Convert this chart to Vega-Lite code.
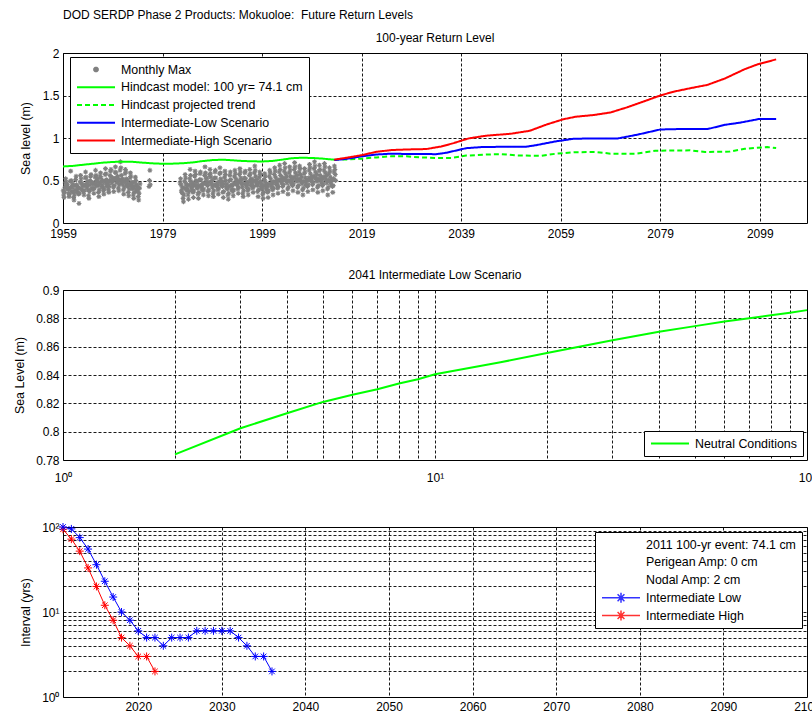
{
"$schema": "https://vega.github.io/schema/vega-lite/v6.json",
"padding": {"left": 12, "top": 8, "right": 0, "bottom": 0},
"background": "white",
"title": {"text": "DOD SERDP Phase 2 Products: Mokuoloe:\u00a0 Future Return Levels", "anchor": "start", "frame": "group", "offset": 10, "fontSize": 12, "fontWeight": "normal"},
"bounds": "flush",
"spacing": 67,
"resolve": {"scale": {"color": "independent"}, "legend": {"color": "independent"}},
"datasets": {
"monthly": [
{"t":1959.04,"v":0.38},{"t":1959.13,"v":0.33},{"t":1959.21,"v":0.30},{"t":1959.29,"v":0.36},{"t":1959.38,"v":0.42},{"t":1959.46,"v":0.47},{"t":1959.54,"v":0.52},{"t":1959.63,"v":0.48},{"t":1959.71,"v":0.44},{"t":1959.79,"v":0.40},{"t":1959.88,"v":0.45},{"t":1959.96,"v":0.41},
{"t":1960.04,"v":0.40},{"t":1960.13,"v":0.35},{"t":1960.21,"v":0.31},{"t":1960.29,"v":0.34},{"t":1960.38,"v":0.40},{"t":1960.46,"v":0.49},{"t":1960.54,"v":0.61},{"t":1960.63,"v":0.50},{"t":1960.71,"v":0.43},{"t":1960.79,"v":0.37},{"t":1960.88,"v":0.42},{"t":1960.96,"v":0.46},
{"t":1961.04,"v":0.36},{"t":1961.13,"v":0.30},{"t":1961.21,"v":0.27},{"t":1961.29,"v":0.33},{"t":1961.38,"v":0.39},{"t":1961.46,"v":0.44},{"t":1961.54,"v":0.51},{"t":1961.63,"v":0.55},{"t":1961.71,"v":0.45},{"t":1961.79,"v":0.38},{"t":1961.88,"v":0.36},{"t":1961.96,"v":0.43},
{"t":1962.04,"v":0.41},{"t":1962.13,"v":0.34},{"t":1962.21,"v":0.23},{"t":1962.29,"v":0.35},{"t":1962.38,"v":0.41},{"t":1962.46,"v":0.48},{"t":1962.54,"v":0.56},{"t":1962.63,"v":0.52},{"t":1962.71,"v":0.47},{"t":1962.79,"v":0.40},{"t":1962.88,"v":0.38},{"t":1962.96,"v":0.44},
{"t":1963.04,"v":0.45},{"t":1963.13,"v":0.37},{"t":1963.21,"v":0.33},{"t":1963.29,"v":0.38},{"t":1963.38,"v":0.44},{"t":1963.46,"v":0.53},{"t":1963.54,"v":0.60},{"t":1963.63,"v":0.54},{"t":1963.71,"v":0.46},{"t":1963.79,"v":0.42},{"t":1963.88,"v":0.44},{"t":1963.96,"v":0.49},
{"t":1964.04,"v":0.39},{"t":1964.13,"v":0.32},{"t":1964.21,"v":0.29},{"t":1964.29,"v":0.37},{"t":1964.38,"v":0.45},{"t":1964.46,"v":0.50},{"t":1964.54,"v":0.55},{"t":1964.63,"v":0.57},{"t":1964.71,"v":0.48},{"t":1964.79,"v":0.41},{"t":1964.88,"v":0.40},{"t":1964.96,"v":0.46},
{"t":1965.04,"v":0.47},{"t":1965.13,"v":0.40},{"t":1965.21,"v":0.35},{"t":1965.29,"v":0.41},{"t":1965.38,"v":0.46},{"t":1965.46,"v":0.54},{"t":1965.54,"v":0.62},{"t":1965.63,"v":0.56},{"t":1965.71,"v":0.50},{"t":1965.79,"v":0.44},{"t":1965.88,"v":0.48},{"t":1965.96,"v":0.52},
{"t":1966.04,"v":0.44},{"t":1966.13,"v":0.36},{"t":1966.21,"v":0.31},{"t":1966.29,"v":0.39},{"t":1966.38,"v":0.47},{"t":1966.46,"v":0.55},{"t":1966.54,"v":0.59},{"t":1966.63,"v":0.53},{"t":1966.71,"v":0.49},{"t":1966.79,"v":0.43},{"t":1966.88,"v":0.45},{"t":1966.96,"v":0.50},
{"t":1967.04,"v":0.42},{"t":1967.13,"v":0.38},{"t":1967.21,"v":0.34},{"t":1967.29,"v":0.40},{"t":1967.38,"v":0.48},{"t":1967.46,"v":0.57},{"t":1967.54,"v":0.64},{"t":1967.63,"v":0.58},{"t":1967.71,"v":0.51},{"t":1967.79,"v":0.45},{"t":1967.88,"v":0.43},{"t":1967.96,"v":0.47},
{"t":1968.04,"v":0.46},{"t":1968.13,"v":0.39},{"t":1968.21,"v":0.36},{"t":1968.29,"v":0.43},{"t":1968.38,"v":0.50},{"t":1968.46,"v":0.56},{"t":1968.54,"v":0.61},{"t":1968.63,"v":0.63},{"t":1968.71,"v":0.54},{"t":1968.79,"v":0.47},{"t":1968.88,"v":0.49},{"t":1968.96,"v":0.53},
{"t":1969.04,"v":0.50},{"t":1969.13,"v":0.42},{"t":1969.21,"v":0.37},{"t":1969.29,"v":0.44},{"t":1969.38,"v":0.52},{"t":1969.46,"v":0.60},{"t":1969.54,"v":0.66},{"t":1969.63,"v":0.59},{"t":1969.71,"v":0.53},{"t":1969.79,"v":0.48},{"t":1969.88,"v":0.51},{"t":1969.96,"v":0.55},
{"t":1970.04,"v":0.48},{"t":1970.13,"v":0.41},{"t":1970.21,"v":0.38},{"t":1970.29,"v":0.45},{"t":1970.38,"v":0.51},{"t":1970.46,"v":0.62},{"t":1970.54,"v":0.72},{"t":1970.63,"v":0.65},{"t":1970.71,"v":0.56},{"t":1970.79,"v":0.49},{"t":1970.88,"v":0.47},{"t":1970.96,"v":0.52},
{"t":1971.04,"v":0.45},{"t":1971.13,"v":0.39},{"t":1971.21,"v":0.34},{"t":1971.29,"v":0.42},{"t":1971.38,"v":0.49},{"t":1971.46,"v":0.58},{"t":1971.54,"v":0.63},{"t":1971.63,"v":0.60},{"t":1971.71,"v":0.52},{"t":1971.79,"v":0.46},{"t":1971.88,"v":0.44},{"t":1971.96,"v":0.50},
{"t":1972.04,"v":0.43},{"t":1972.13,"v":0.36},{"t":1972.21,"v":0.32},{"t":1972.29,"v":0.40},{"t":1972.38,"v":0.46},{"t":1972.46,"v":0.53},{"t":1972.54,"v":0.59},{"t":1972.63,"v":0.55},{"t":1972.71,"v":0.48},{"t":1972.79,"v":0.44},{"t":1972.88,"v":0.41},{"t":1972.96,"v":0.47},
{"t":1973.04,"v":0.40},{"t":1973.13,"v":0.33},{"t":1973.21,"v":0.29},{"t":1973.29,"v":0.36},{"t":1973.38,"v":0.42},{"t":1973.46,"v":0.48},{"t":1973.54,"v":0.54},{"t":1973.63,"v":0.50},{"t":1973.71,"v":0.45},{"t":1973.79,"v":0.39},{"t":1973.88,"v":0.37},{"t":1973.96,"v":0.43},
{"t":1974.04,"v":0.38},{"t":1974.13,"v":0.31},{"t":1974.21,"v":0.27},{"t":1974.29,"v":0.35},{"t":1974.38,"v":0.41},{"t":1974.46,"v":0.46},
{"t":1976.29,"v":0.43},{"t":1976.38,"v":0.50},{"t":1976.46,"v":0.62},{"t":1976.54,"v":0.45},
{"t":1982.54,"v":0.47},{"t":1982.63,"v":0.52},{"t":1982.71,"v":0.45},{"t":1982.79,"v":0.38},{"t":1982.88,"v":0.36},{"t":1982.96,"v":0.42},
{"t":1983.04,"v":0.35},{"t":1983.13,"v":0.29},{"t":1983.21,"v":0.25},{"t":1983.29,"v":0.33},{"t":1983.38,"v":0.41},{"t":1983.46,"v":0.49},{"t":1983.54,"v":0.57},{"t":1983.63,"v":0.53},{"t":1983.71,"v":0.46},{"t":1983.79,"v":0.40},{"t":1983.88,"v":0.38},{"t":1983.96,"v":0.44},
{"t":1984.04,"v":0.40},{"t":1984.13,"v":0.33},{"t":1984.21,"v":0.28},{"t":1984.29,"v":0.37},{"t":1984.38,"v":0.45},{"t":1984.46,"v":0.52},{"t":1984.54,"v":0.63},{"t":1984.63,"v":0.56},{"t":1984.71,"v":0.49},{"t":1984.79,"v":0.42},{"t":1984.88,"v":0.39},{"t":1984.96,"v":0.46},
{"t":1985.04,"v":0.43},{"t":1985.13,"v":0.36},{"t":1985.21,"v":0.30},{"t":1985.29,"v":0.38},{"t":1985.38,"v":0.46},{"t":1985.46,"v":0.55},{"t":1985.54,"v":0.61},{"t":1985.63,"v":0.57},{"t":1985.71,"v":0.50},{"t":1985.79,"v":0.44},{"t":1985.88,"v":0.42},{"t":1985.96,"v":0.48},
{"t":1986.04,"v":0.41},{"t":1986.13,"v":0.34},{"t":1986.21,"v":0.29},{"t":1986.29,"v":0.36},{"t":1986.38,"v":0.44},{"t":1986.46,"v":0.51},{"t":1986.54,"v":0.58},{"t":1986.63,"v":0.60},{"t":1986.71,"v":0.51},{"t":1986.79,"v":0.43},{"t":1986.88,"v":0.40},{"t":1986.96,"v":0.45},
{"t":1987.04,"v":0.46},{"t":1987.13,"v":0.38},{"t":1987.21,"v":0.33},{"t":1987.29,"v":0.40},{"t":1987.38,"v":0.47},{"t":1987.46,"v":0.56},{"t":1987.54,"v":0.66},{"t":1987.63,"v":0.59},{"t":1987.71,"v":0.52},{"t":1987.79,"v":0.46},{"t":1987.88,"v":0.48},{"t":1987.96,"v":0.53},
{"t":1988.04,"v":0.44},{"t":1988.13,"v":0.37},{"t":1988.21,"v":0.32},{"t":1988.29,"v":0.39},{"t":1988.38,"v":0.48},{"t":1988.46,"v":0.57},{"t":1988.54,"v":0.63},{"t":1988.63,"v":0.58},{"t":1988.71,"v":0.54},{"t":1988.79,"v":0.47},{"t":1988.88,"v":0.45},{"t":1988.96,"v":0.50},
{"t":1989.04,"v":0.42},{"t":1989.13,"v":0.35},{"t":1989.21,"v":0.31},{"t":1989.29,"v":0.38},{"t":1989.38,"v":0.45},{"t":1989.46,"v":0.53},{"t":1989.54,"v":0.60},{"t":1989.63,"v":0.62},{"t":1989.71,"v":0.53},{"t":1989.79,"v":0.45},{"t":1989.88,"v":0.43},{"t":1989.96,"v":0.47},
{"t":1990.04,"v":0.45},{"t":1990.13,"v":0.39},{"t":1990.21,"v":0.34},{"t":1990.29,"v":0.41},{"t":1990.38,"v":0.49},{"t":1990.46,"v":0.58},{"t":1990.54,"v":0.65},{"t":1990.63,"v":0.59},{"t":1990.71,"v":0.52},{"t":1990.79,"v":0.46},{"t":1990.88,"v":0.44},{"t":1990.96,"v":0.49},
{"t":1991.04,"v":0.43},{"t":1991.13,"v":0.36},{"t":1991.21,"v":0.30},{"t":1991.29,"v":0.37},{"t":1991.38,"v":0.46},{"t":1991.46,"v":0.54},{"t":1991.54,"v":0.61},{"t":1991.63,"v":0.57},{"t":1991.71,"v":0.50},{"t":1991.79,"v":0.43},{"t":1991.88,"v":0.41},{"t":1991.96,"v":0.46},
{"t":1992.04,"v":0.40},{"t":1992.13,"v":0.33},{"t":1992.21,"v":0.28},{"t":1992.29,"v":0.35},{"t":1992.38,"v":0.43},{"t":1992.46,"v":0.50},{"t":1992.54,"v":0.56},{"t":1992.63,"v":0.60},{"t":1992.71,"v":0.51},{"t":1992.79,"v":0.44},{"t":1992.88,"v":0.39},{"t":1992.96,"v":0.45},
{"t":1993.04,"v":0.44},{"t":1993.13,"v":0.37},{"t":1993.21,"v":0.32},{"t":1993.29,"v":0.39},{"t":1993.38,"v":0.47},{"t":1993.46,"v":0.55},{"t":1993.54,"v":0.62},{"t":1993.63,"v":0.58},{"t":1993.71,"v":0.52},{"t":1993.79,"v":0.47},{"t":1993.88,"v":0.45},{"t":1993.96,"v":0.50},
{"t":1994.04,"v":0.46},{"t":1994.13,"v":0.40},{"t":1994.21,"v":0.35},{"t":1994.29,"v":0.42},{"t":1994.38,"v":0.49},{"t":1994.46,"v":0.57},{"t":1994.54,"v":0.64},{"t":1994.63,"v":0.60},{"t":1994.71,"v":0.53},{"t":1994.79,"v":0.48},{"t":1994.88,"v":0.46},{"t":1994.96,"v":0.51},
{"t":1995.04,"v":0.42},{"t":1995.13,"v":0.35},{"t":1995.21,"v":0.31},{"t":1995.29,"v":0.38},{"t":1995.38,"v":0.46},{"t":1995.46,"v":0.53},{"t":1995.54,"v":0.59},{"t":1995.63,"v":0.61},{"t":1995.71,"v":0.52},{"t":1995.79,"v":0.45},{"t":1995.88,"v":0.42},{"t":1995.96,"v":0.48},
{"t":1996.04,"v":0.45},{"t":1996.13,"v":0.38},{"t":1996.21,"v":0.33},{"t":1996.29,"v":0.40},{"t":1996.38,"v":0.48},{"t":1996.46,"v":0.56},{"t":1996.54,"v":0.63},{"t":1996.63,"v":0.58},{"t":1996.71,"v":0.51},{"t":1996.79,"v":0.44},{"t":1996.88,"v":0.47},{"t":1996.96,"v":0.52},
{"t":1997.04,"v":0.48},{"t":1997.13,"v":0.41},{"t":1997.21,"v":0.36},{"t":1997.29,"v":0.43},{"t":1997.38,"v":0.50},{"t":1997.46,"v":0.59},{"t":1997.54,"v":0.67},{"t":1997.63,"v":0.62},{"t":1997.71,"v":0.55},{"t":1997.79,"v":0.49},{"t":1997.88,"v":0.46},{"t":1997.96,"v":0.51},
{"t":1998.04,"v":0.44},{"t":1998.13,"v":0.37},{"t":1998.21,"v":0.31},{"t":1998.29,"v":0.39},{"t":1998.38,"v":0.47},{"t":1998.46,"v":0.54},{"t":1998.54,"v":0.60},{"t":1998.63,"v":0.57},{"t":1998.71,"v":0.49},{"t":1998.79,"v":0.43},{"t":1998.88,"v":0.40},{"t":1998.96,"v":0.46},
{"t":1999.04,"v":0.41},{"t":1999.13,"v":0.34},{"t":1999.21,"v":0.29},{"t":1999.29,"v":0.36},{"t":1999.38,"v":0.44},{"t":1999.46,"v":0.51},{"t":1999.54,"v":0.58},{"t":1999.63,"v":0.55},{"t":1999.71,"v":0.48},{"t":1999.79,"v":0.42},{"t":1999.88,"v":0.39},{"t":1999.96,"v":0.45},
{"t":2000.04,"v":0.43},{"t":2000.13,"v":0.36},{"t":2000.21,"v":0.30},{"t":2000.29,"v":0.38},{"t":2000.38,"v":0.46},{"t":2000.46,"v":0.55},{"t":2000.54,"v":0.62},{"t":2000.63,"v":0.59},{"t":2000.71,"v":0.52},{"t":2000.79,"v":0.45},{"t":2000.88,"v":0.42},{"t":2000.96,"v":0.48},
{"t":2001.04,"v":0.46},{"t":2001.13,"v":0.39},{"t":2001.21,"v":0.33},{"t":2001.29,"v":0.41},{"t":2001.38,"v":0.49},{"t":2001.46,"v":0.57},{"t":2001.54,"v":0.65},{"t":2001.63,"v":0.61},{"t":2001.71,"v":0.54},{"t":2001.79,"v":0.47},{"t":2001.88,"v":0.45},{"t":2001.96,"v":0.50},
{"t":2002.04,"v":0.48},{"t":2002.13,"v":0.41},{"t":2002.21,"v":0.35},{"t":2002.29,"v":0.43},{"t":2002.38,"v":0.51},{"t":2002.46,"v":0.60},{"t":2002.54,"v":0.68},{"t":2002.63,"v":0.63},{"t":2002.71,"v":0.56},{"t":2002.79,"v":0.50},{"t":2002.88,"v":0.47},{"t":2002.96,"v":0.53},
{"t":2003.04,"v":0.50},{"t":2003.13,"v":0.43},{"t":2003.21,"v":0.37},{"t":2003.29,"v":0.45},{"t":2003.38,"v":0.53},{"t":2003.46,"v":0.61},{"t":2003.54,"v":0.70},{"t":2003.63,"v":0.65},{"t":2003.71,"v":0.58},{"t":2003.79,"v":0.51},{"t":2003.88,"v":0.49},{"t":2003.96,"v":0.55},
{"t":2004.04,"v":0.47},{"t":2004.13,"v":0.40},{"t":2004.21,"v":0.34},{"t":2004.29,"v":0.42},{"t":2004.38,"v":0.50},{"t":2004.46,"v":0.59},{"t":2004.54,"v":0.66},{"t":2004.63,"v":0.62},{"t":2004.71,"v":0.55},{"t":2004.79,"v":0.49},{"t":2004.88,"v":0.46},{"t":2004.96,"v":0.52},
{"t":2005.04,"v":0.51},{"t":2005.13,"v":0.44},{"t":2005.21,"v":0.38},{"t":2005.29,"v":0.46},{"t":2005.38,"v":0.54},{"t":2005.46,"v":0.63},{"t":2005.54,"v":0.71},{"t":2005.63,"v":0.66},{"t":2005.71,"v":0.59},{"t":2005.79,"v":0.52},{"t":2005.88,"v":0.50},{"t":2005.96,"v":0.56},
{"t":2006.04,"v":0.49},{"t":2006.13,"v":0.42},{"t":2006.21,"v":0.36},{"t":2006.29,"v":0.44},{"t":2006.38,"v":0.52},{"t":2006.46,"v":0.60},{"t":2006.54,"v":0.67},{"t":2006.63,"v":0.64},{"t":2006.71,"v":0.57},{"t":2006.79,"v":0.50},{"t":2006.88,"v":0.48},{"t":2006.96,"v":0.54},
{"t":2007.04,"v":0.46},{"t":2007.13,"v":0.39},{"t":2007.21,"v":0.33},{"t":2007.29,"v":0.41},{"t":2007.38,"v":0.49},{"t":2007.46,"v":0.58},{"t":2007.54,"v":0.64},{"t":2007.63,"v":0.60},{"t":2007.71,"v":0.53},{"t":2007.79,"v":0.47},{"t":2007.88,"v":0.44},{"t":2007.96,"v":0.50},
{"t":2008.04,"v":0.50},{"t":2008.13,"v":0.43},{"t":2008.21,"v":0.37},{"t":2008.29,"v":0.45},{"t":2008.38,"v":0.53},{"t":2008.46,"v":0.62},{"t":2008.54,"v":0.69},{"t":2008.63,"v":0.65},{"t":2008.71,"v":0.58},{"t":2008.79,"v":0.51},{"t":2008.88,"v":0.49},{"t":2008.96,"v":0.55},
{"t":2009.04,"v":0.52},{"t":2009.13,"v":0.45},{"t":2009.21,"v":0.39},{"t":2009.29,"v":0.47},{"t":2009.38,"v":0.55},{"t":2009.46,"v":0.64},{"t":2009.54,"v":0.72},{"t":2009.63,"v":0.67},{"t":2009.71,"v":0.60},{"t":2009.79,"v":0.53},{"t":2009.88,"v":0.51},{"t":2009.96,"v":0.57},
{"t":2010.04,"v":0.49},{"t":2010.13,"v":0.42},{"t":2010.21,"v":0.36},{"t":2010.29,"v":0.44},{"t":2010.38,"v":0.52},{"t":2010.46,"v":0.61},{"t":2010.54,"v":0.68},{"t":2010.63,"v":0.63},{"t":2010.71,"v":0.56},{"t":2010.79,"v":0.50},{"t":2010.88,"v":0.47},{"t":2010.96,"v":0.53},
{"t":2011.04,"v":0.51},{"t":2011.13,"v":0.44},{"t":2011.21,"v":0.38},{"t":2011.29,"v":0.46},{"t":2011.38,"v":0.54},{"t":2011.46,"v":0.62},{"t":2011.54,"v":0.70},{"t":2011.63,"v":0.66},{"t":2011.71,"v":0.59},{"t":2011.79,"v":0.52},{"t":2011.88,"v":0.50},{"t":2011.96,"v":0.56},
{"t":2012.04,"v":0.47},{"t":2012.13,"v":0.40},{"t":2012.21,"v":0.33},{"t":2012.29,"v":0.42},{"t":2012.38,"v":0.50},{"t":2012.46,"v":0.58},{"t":2012.54,"v":0.65},{"t":2012.63,"v":0.61},{"t":2012.71,"v":0.54},{"t":2012.79,"v":0.48},{"t":2012.88,"v":0.45},{"t":2012.96,"v":0.51},
{"t":2013.04,"v":0.50},{"t":2013.13,"v":0.43},{"t":2013.21,"v":0.36},{"t":2013.29,"v":0.44},{"t":2013.38,"v":0.52},{"t":2013.46,"v":0.60},{"t":2013.54,"v":0.67},{"t":2013.63,"v":0.63},{"t":2013.71,"v":0.57},{"t":2013.79,"v":0.50}
],
"lines1": [
{"s":"Hindcast model: 100 yr= 74.1 cm","t":1959,"v":0.665},{"s":"Hindcast model: 100 yr= 74.1 cm","t":1961,"v":0.672},{"s":"Hindcast model: 100 yr= 74.1 cm","t":1963,"v":0.685},{"s":"Hindcast model: 100 yr= 74.1 cm","t":1965,"v":0.697},{"s":"Hindcast model: 100 yr= 74.1 cm","t":1967,"v":0.71},{"s":"Hindcast model: 100 yr= 74.1 cm","t":1969,"v":0.718},{"s":"Hindcast model: 100 yr= 74.1 cm","t":1971,"v":0.722},{"s":"Hindcast model: 100 yr= 74.1 cm","t":1973,"v":0.72},{"s":"Hindcast model: 100 yr= 74.1 cm","t":1975,"v":0.71},{"s":"Hindcast model: 100 yr= 74.1 cm","t":1977,"v":0.702},{"s":"Hindcast model: 100 yr= 74.1 cm","t":1979,"v":0.697},{"s":"Hindcast model: 100 yr= 74.1 cm","t":1981,"v":0.698},{"s":"Hindcast model: 100 yr= 74.1 cm","t":1983,"v":0.703},{"s":"Hindcast model: 100 yr= 74.1 cm","t":1985,"v":0.712},{"s":"Hindcast model: 100 yr= 74.1 cm","t":1987,"v":0.728},{"s":"Hindcast model: 100 yr= 74.1 cm","t":1989,"v":0.74},{"s":"Hindcast model: 100 yr= 74.1 cm","t":1991,"v":0.745},{"s":"Hindcast model: 100 yr= 74.1 cm","t":1993,"v":0.738},{"s":"Hindcast model: 100 yr= 74.1 cm","t":1995,"v":0.73},{"s":"Hindcast model: 100 yr= 74.1 cm","t":1997,"v":0.726},{"s":"Hindcast model: 100 yr= 74.1 cm","t":1999,"v":0.724},{"s":"Hindcast model: 100 yr= 74.1 cm","t":2001,"v":0.73},{"s":"Hindcast model: 100 yr= 74.1 cm","t":2003,"v":0.745},{"s":"Hindcast model: 100 yr= 74.1 cm","t":2005,"v":0.762},{"s":"Hindcast model: 100 yr= 74.1 cm","t":2007,"v":0.768},{"s":"Hindcast model: 100 yr= 74.1 cm","t":2009,"v":0.765},{"s":"Hindcast model: 100 yr= 74.1 cm","t":2011,"v":0.758},{"s":"Hindcast model: 100 yr= 74.1 cm","t":2013.5,"v":0.745},
{"s":"Hindcast projected trend","t":2013.5,"v":0.745},{"s":"Hindcast projected trend","t":2016,"v":0.748},{"s":"Hindcast projected trend","t":2019,"v":0.757},{"s":"Hindcast projected trend","t":2022,"v":0.772},{"s":"Hindcast projected trend","t":2025,"v":0.785},{"s":"Hindcast projected trend","t":2028,"v":0.784},{"s":"Hindcast projected trend","t":2031,"v":0.772},{"s":"Hindcast projected trend","t":2034,"v":0.765},{"s":"Hindcast projected trend","t":2037,"v":0.766},{"s":"Hindcast projected trend","t":2040,"v":0.793},{"s":"Hindcast projected trend","t":2044,"v":0.805},{"s":"Hindcast projected trend","t":2047,"v":0.81},{"s":"Hindcast projected trend","t":2050,"v":0.796},{"s":"Hindcast projected trend","t":2055,"v":0.79},{"s":"Hindcast projected trend","t":2058,"v":0.815},{"s":"Hindcast projected trend","t":2062,"v":0.833},{"s":"Hindcast projected trend","t":2066,"v":0.835},{"s":"Hindcast projected trend","t":2069,"v":0.816},{"s":"Hindcast projected trend","t":2074,"v":0.815},{"s":"Hindcast projected trend","t":2078,"v":0.85},{"s":"Hindcast projected trend","t":2085,"v":0.855},{"s":"Hindcast projected trend","t":2088,"v":0.836},{"s":"Hindcast projected trend","t":2093,"v":0.84},{"s":"Hindcast projected trend","t":2096,"v":0.874},{"s":"Hindcast projected trend","t":2100.5,"v":0.893},{"s":"Hindcast projected trend","t":2102.3,"v":0.882},
{"s":"Intermediate-Low Scenario","t":2013.5,"v":0.74},{"s":"Intermediate-Low Scenario","t":2016,"v":0.755},{"s":"Intermediate-Low Scenario","t":2019,"v":0.784},{"s":"Intermediate-Low Scenario","t":2022,"v":0.806},{"s":"Intermediate-Low Scenario","t":2025,"v":0.816},{"s":"Intermediate-Low Scenario","t":2028,"v":0.812},{"s":"Intermediate-Low Scenario","t":2034,"v":0.81},{"s":"Intermediate-Low Scenario","t":2036,"v":0.826},{"s":"Intermediate-Low Scenario","t":2040,"v":0.88},{"s":"Intermediate-Low Scenario","t":2043.5,"v":0.895},{"s":"Intermediate-Low Scenario","t":2052,"v":0.897},{"s":"Intermediate-Low Scenario","t":2054,"v":0.915},{"s":"Intermediate-Low Scenario","t":2058,"v":0.96},{"s":"Intermediate-Low Scenario","t":2061.5,"v":0.99},{"s":"Intermediate-Low Scenario","t":2065,"v":0.995},{"s":"Intermediate-Low Scenario","t":2070.5,"v":0.995},{"s":"Intermediate-Low Scenario","t":2074.5,"v":1.04},{"s":"Intermediate-Low Scenario","t":2079,"v":1.1},{"s":"Intermediate-Low Scenario","t":2082.5,"v":1.105},{"s":"Intermediate-Low Scenario","t":2088.5,"v":1.105},{"s":"Intermediate-Low Scenario","t":2092,"v":1.155},{"s":"Intermediate-Low Scenario","t":2095,"v":1.18},{"s":"Intermediate-Low Scenario","t":2099,"v":1.225},{"s":"Intermediate-Low Scenario","t":2102.3,"v":1.225},
{"s":"Intermediate-High Scenario","t":2013.5,"v":0.745},{"s":"Intermediate-High Scenario","t":2016,"v":0.768},{"s":"Intermediate-High Scenario","t":2019,"v":0.798},{"s":"Intermediate-High Scenario","t":2022,"v":0.838},{"s":"Intermediate-High Scenario","t":2025,"v":0.858},{"s":"Intermediate-High Scenario","t":2028,"v":0.865},{"s":"Intermediate-High Scenario","t":2032,"v":0.87},{"s":"Intermediate-High Scenario","t":2035,"v":0.9},{"s":"Intermediate-High Scenario","t":2037.5,"v":0.94},{"s":"Intermediate-High Scenario","t":2040.5,"v":0.995},{"s":"Intermediate-High Scenario","t":2044,"v":1.027},{"s":"Intermediate-High Scenario","t":2049,"v":1.05},{"s":"Intermediate-High Scenario","t":2052.8,"v":1.085},{"s":"Intermediate-High Scenario","t":2056,"v":1.155},{"s":"Intermediate-High Scenario","t":2059.5,"v":1.22},{"s":"Intermediate-High Scenario","t":2062,"v":1.25},{"s":"Intermediate-High Scenario","t":2065.6,"v":1.27},{"s":"Intermediate-High Scenario","t":2069,"v":1.3},{"s":"Intermediate-High Scenario","t":2072.3,"v":1.36},{"s":"Intermediate-High Scenario","t":2075.7,"v":1.43},{"s":"Intermediate-High Scenario","t":2079,"v":1.5},{"s":"Intermediate-High Scenario","t":2081.7,"v":1.545},{"s":"Intermediate-High Scenario","t":2085,"v":1.585},{"s":"Intermediate-High Scenario","t":2088.5,"v":1.625},{"s":"Intermediate-High Scenario","t":2092,"v":1.7},{"s":"Intermediate-High Scenario","t":2096,"v":1.81},{"s":"Intermediate-High Scenario","t":2098.5,"v":1.865},{"s":"Intermediate-High Scenario","t":2102.3,"v":1.925}
],
"neutral": [
{"x":2,"y":0.784},{"x":3,"y":0.8024},{"x":4,"y":0.813},{"x":5,"y":0.821},{"x":6,"y":0.826},{"x":7,"y":0.83},{"x":8,"y":0.834},{"x":9,"y":0.837},{"x":10,"y":0.8405},{"x":15,"y":0.849},{"x":20,"y":0.8555},{"x":30,"y":0.8645},{"x":40,"y":0.8705},{"x":50,"y":0.8745},{"x":60,"y":0.8777},{"x":70,"y":0.88},{"x":80,"y":0.8822},{"x":90,"y":0.884},{"x":100,"y":0.8858}
],
"intervals": [
{"s":"Intermediate High","x":2011,"y":94},{"s":"Intermediate High","x":2012,"y":72},{"s":"Intermediate High","x":2013,"y":52},{"s":"Intermediate High","x":2014,"y":33},{"s":"Intermediate High","x":2015,"y":20},{"s":"Intermediate High","x":2016,"y":12},{"s":"Intermediate High","x":2017,"y":8},{"s":"Intermediate High","x":2018,"y":5},{"s":"Intermediate High","x":2019,"y":4},{"s":"Intermediate High","x":2020,"y":3},{"s":"Intermediate High","x":2021,"y":3},{"s":"Intermediate High","x":2022,"y":2},
{"s":"Intermediate Low","x":2011,"y":100},{"s":"Intermediate Low","x":2012,"y":95},{"s":"Intermediate Low","x":2013,"y":75},{"s":"Intermediate Low","x":2014,"y":55},{"s":"Intermediate Low","x":2015,"y":36},{"s":"Intermediate Low","x":2016,"y":23},{"s":"Intermediate Low","x":2017,"y":15},{"s":"Intermediate Low","x":2018,"y":10},{"s":"Intermediate Low","x":2019,"y":8},{"s":"Intermediate Low","x":2020,"y":6},{"s":"Intermediate Low","x":2021,"y":5},{"s":"Intermediate Low","x":2022,"y":5},{"s":"Intermediate Low","x":2023,"y":4},{"s":"Intermediate Low","x":2024,"y":5},{"s":"Intermediate Low","x":2025,"y":5},{"s":"Intermediate Low","x":2026,"y":5},{"s":"Intermediate Low","x":2027,"y":6},{"s":"Intermediate Low","x":2028,"y":6},{"s":"Intermediate Low","x":2029,"y":6},{"s":"Intermediate Low","x":2030,"y":6},{"s":"Intermediate Low","x":2031,"y":6},{"s":"Intermediate Low","x":2032,"y":5},{"s":"Intermediate Low","x":2033,"y":4},{"s":"Intermediate Low","x":2034,"y":3},{"s":"Intermediate Low","x":2035,"y":3},{"s":"Intermediate Low","x":2036,"y":2}
]
},
"vconcat": [
{
"width": 744, "height": 170,
"title": {"text": "100-year Return Level", "offset": 2},
"layer": [
{"data": {"name": "monthly"},
 "mark": {"type": "point", "shape": "M-1,0L1,0M0,-1L0,1M-0.7,-0.7L0.7,0.7M-0.7,0.7L0.7,-0.7", "size": 24, "filled": false, "strokeWidth": 1.1, "opacity": 1},
 "encoding": {
  "x": {"field": "t", "type": "quantitative", "scale": {"domain": [1959, 2108.5], "nice": false, "zero": false}, "axis": {"values": [1959,1979,1999,2019,2039,2059,2079,2099], "format": "d", "title": null, "labelPadding": 5}},
  "y": {"field": "v", "type": "quantitative", "scale": {"domain": [0, 2], "nice": false}, "axis": {"values": [0,0.5,1,1.5,2], "format": "~g", "title": "Sea level (m)"}},
  "color": {"datum": "Monthly Max", "type": "nominal",
   "scale": {"domain": ["Monthly Max","Hindcast model: 100 yr= 74.1 cm","Hindcast projected trend","Intermediate-Low Scenario","Intermediate-High Scenario"], "range": ["#808080","#00ff00","#00ff00","#0000ff","#ff0000"]},
   "legend": {"orient": "none", "legendX": 7, "legendY": 4, "title": null,
    "encode": {"symbols": {"update": {
      "shape": {"signal": "datum.value === 'Monthly Max' ? 'M-0.15,0L0.15,0M0,-0.15L0,0.15M-0.105,-0.105L0.105,0.105M-0.105,0.105L0.105,-0.105' : 'M-1,0L1,0'"},
      "strokeDash": {"signal": "datum.value === 'Hindcast projected trend' ? [5,3] : [1,0]"}
    }}}}
  }
 }},
{"data": {"name": "lines1"},
 "mark": {"type": "line", "strokeWidth": 2},
 "encoding": {
  "x": {"field": "t", "type": "quantitative"},
  "y": {"field": "v", "type": "quantitative"},
  "color": {"field": "s", "type": "nominal",
   "legend": {"orient": "none", "legendX": 7, "legendY": 4, "title": null,
    "encode": {"symbols": {"update": {
      "shape": {"signal": "datum.value === 'Monthly Max' ? 'M-0.15,0L0.15,0M0,-0.15L0,0.15M-0.105,-0.105L0.105,0.105M-0.105,0.105L0.105,-0.105' : 'M-1,0L1,0'"},
      "strokeDash": {"signal": "datum.value === 'Hindcast projected trend' ? [5,3] : [1,0]"}
    }}}}},
  "strokeDash": {"field": "s", "type": "nominal", "scale": {"domain": ["Hindcast model: 100 yr= 74.1 cm","Hindcast projected trend","Intermediate-Low Scenario","Intermediate-High Scenario"], "range": [[1,0],[5,3],[1,0],[1,0]]}, "legend": null}
 }}
]
},
{
"width": 744, "height": 170,
"title": {"text": "2041 Intermediate Low Scenario", "offset": 2},
"data": {"name": "neutral"},
"mark": {"type": "line", "strokeWidth": 2},
"encoding": {
 "x": {"field": "x", "type": "quantitative", "scale": {"type": "log", "domain": [1, 100], "nice": false}, "axis": {"values": [1,2,3,4,5,6,7,8,9,10,20,30,40,50,60,70,80,90,100], "labelExpr": "datum.value == 1 ? '10\u2070' : datum.value == 10 ? '10\u00b9' : datum.value == 100 ? '10\u00b2' : ''", "title": null, "labelPadding": 12}},
 "y": {"field": "y", "type": "quantitative", "scale": {"domain": [0.78, 0.9], "nice": false, "zero": false}, "axis": {"values": [0.78,0.8,0.82,0.84,0.86,0.88,0.9], "format": "~g", "title": "Sea Level (m)"}},
 "color": {"datum": "Neutral Conditions", "type": "nominal", "scale": {"domain": ["Neutral Conditions"], "range": ["#00ff00"]}, "legend": {"orient": "bottom-right", "offset": 4, "title": null}}
}
},
{
"width": 744, "height": 170,
"data": {"name": "intervals"},
"layer": [
{"mark": {"type": "line", "strokeWidth": 1},
 "encoding": {
  "x": {"field": "x", "type": "quantitative", "scale": {"domain": [2011, 2100], "nice": false, "zero": false}, "axis": {"values": [2020,2030,2040,2050,2060,2070,2080,2090,2100], "format": "d", "title": null, "labelPadding": 4}},
  "y": {"field": "y", "type": "quantitative", "scale": {"type": "log", "domain": [1, 100], "nice": false}, "axis": {"values": [1,2,3,4,5,6,7,8,9,10,20,30,40,50,60,70,80,90,100], "labelExpr": "datum.value == 1 ? '10\u2070' : datum.value == 10 ? '10\u00b9' : datum.value == 100 ? '10\u00b2' : ''", "title": "Interval (yrs)"}},
  "color": {"field": "s", "type": "nominal",
   "scale": {"domain": ["2011 100-yr event: 74.1 cm","Perigean Amp: 0 cm","Nodal Amp: 2 cm","Intermediate Low","Intermediate High"], "range": ["#ffffff","#ffffff","#ffffff","#0000ff","#ff0000"]},
   "legend": {"orient": "top-right", "offset": 5, "title": null, "symbolStrokeWidth": 1.5,
    "encode": {"symbols": {"update": {
      "shape": {"value": "M-1,0L1,0M0,-0.26L0,0.26M-0.18,-0.18L0.18,0.18M-0.18,0.18L0.18,-0.18M-0.26,0L0.26,0"},
      "opacity": {"signal": "(datum.value === 'Intermediate Low' || datum.value === 'Intermediate High') ? 0.8 : 0"}
    }}}}
  }
 }},
{"mark": {"type": "point", "shape": "M-1,0L1,0M0,-1L0,1M-0.7,-0.7L0.7,0.7M-0.7,0.7L0.7,-0.7", "size": 64, "filled": false, "strokeWidth": 1, "opacity": 1},
 "encoding": {
  "x": {"field": "x", "type": "quantitative"},
  "y": {"field": "y", "type": "quantitative"},
  "color": {"field": "s", "type": "nominal"}
 }}
]
}
],
"config": {
 "font": "Liberation Sans",
 "view": {"stroke": "#000000", "strokeWidth": 1},
 "axis": {"grid": true, "gridColor": "#000000", "gridDash": [3,2], "gridOpacity": 0.9, "gridWidth": 1, "domain": false, "ticks": false, "labelFontSize": 12, "labelColor": "#000000", "labelPadding": 4, "titleFontSize": 12.4, "titleFontWeight": "normal", "titleColor": "#000000", "titlePadding": 9.5, "labelFlush": false, "labelOverlap": false, "labelFont": "Liberation Sans", "titleFont": "Liberation Sans"},
 "title": {"fontSize": 12, "fontWeight": "normal", "color": "#000000", "font": "Liberation Sans"},
 "legend": {"labelFontSize": 12.4, "labelLimit": 400, "labelColor": "#000000", "labelFont": "Liberation Sans", "symbolType": "M-1,0L1,0", "symbolSize": 1444, "symbolStrokeWidth": 2, "clipHeight": 13, "rowPadding": 4.75, "padding": 6, "labelOffset": 5, "strokeColor": "#000000", "fillColor": "#ffffff", "symbolOffset": 0, "symbolFillColor": "transparent"}
}
}
